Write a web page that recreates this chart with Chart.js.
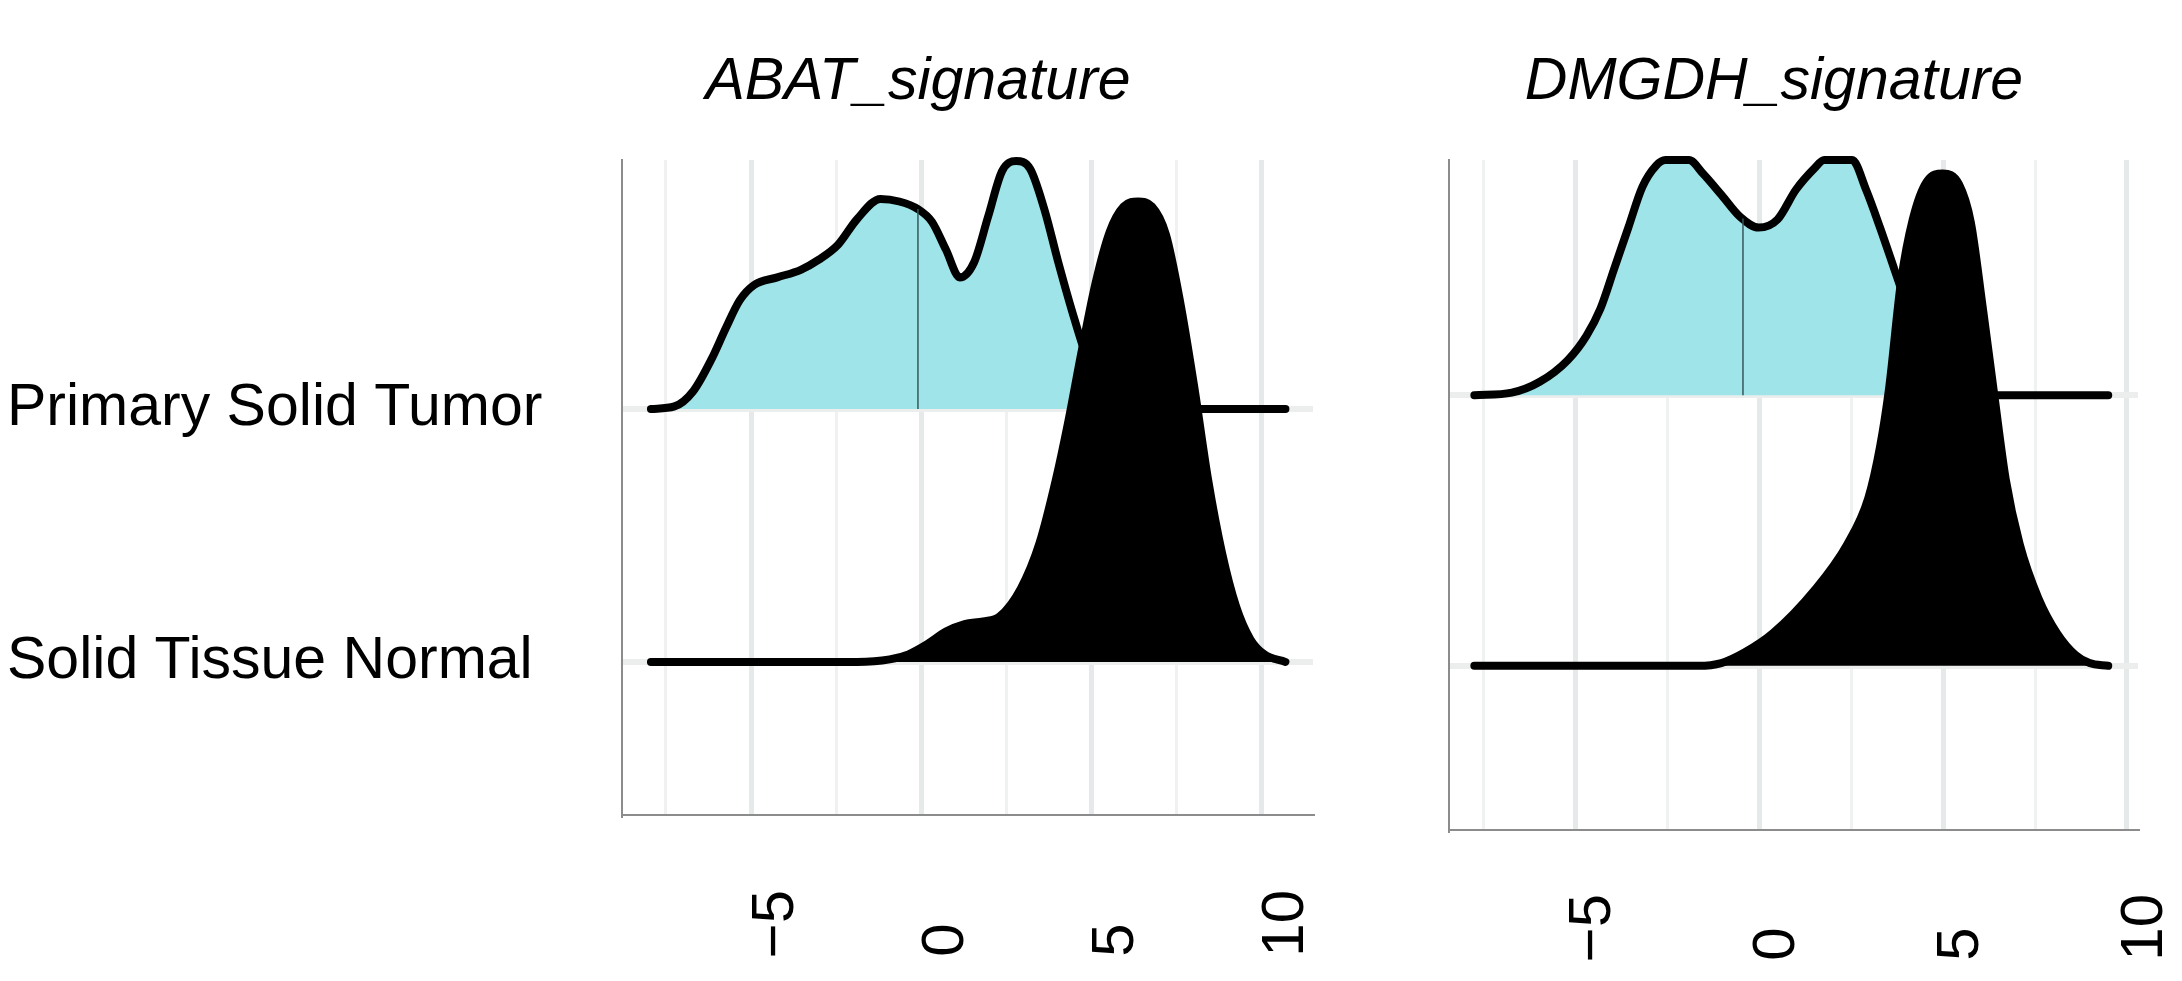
<!DOCTYPE html>
<html>
<head>
<meta charset="utf-8">
<script src="https://cdn.jsdelivr.net/npm/chart.js@4.4.1/dist/chart.umd.min.js"></script>
<style>
  body { margin: 0; background: #fff; }
  #wrap { position: relative; width: 2182px; height: 981px; }
  canvas { position: absolute; top: 0; }
  .title {
    position: absolute; top: 50px; width: 800px; text-align: center;
    font: italic 59px/58px 'Liberation Sans', Arial, sans-serif; color: #000;
  }
</style>
</head>
<body>
<div id="wrap">
  <div class="title" id="title-abat" style="left:518px"></div>
  <div class="title" id="title-dmgdh" style="left:1374px"></div>
  <canvas id="abat" width="1340" height="981" style="left:0"></canvas>
  <canvas id="dmgdh" width="782" height="981" style="left:1400px"></canvas>
</div>
<script>
const groups = ['Solid Tissue Normal', 'Primary Solid Tumor'];
const groupLevels = [1, 2];
const panelTitles = ['ABAT_signature', 'DMGDH_signature'];
const gridTicks = [-7.5, -5, -2.5, 0, 2.5, 5, 7.5, 10];
const labelledTicks = [-5, 0, 5, 10];
const tickLabels = ['\u22125', '0', '5', '10'];

// ABAT_signature ridges (x = score, h = scaled density)
const abatTumorX = [-7.94, -7.25, -6.70, -6.15, -5.74, -5.33, -4.91, -4.23, -3.54, -3.01, -2.44, -1.89, -1.20, -0.65, -0.10, 0.31, 0.72, 1.13, 1.55, 1.96, 2.37, 2.78, 3.19, 3.61, 4.02, 4.44, 4.84, 5.26, 5.67, 6.10, 10.69];
const abatTumorH = [0, 0.01, 0.07, 0.20, 0.32, 0.43, 0.49, 0.52, 0.55, 0.59, 0.65, 0.75, 0.83, 0.82, 0.79, 0.74, 0.63, 0.52, 0.58, 0.76, 0.94, 0.98, 0.95, 0.79, 0.58, 0.38, 0.21, 0.09, 0.02, 0, 0];
const abatNormalX = [-7.94, -1.89, -0.93, -0.38, 0.17, 0.72, 1.27, 1.82, 2.30, 2.92, 3.47, 3.95, 4.30, 4.71, 5.12, 5.53, 5.94, 6.36, 6.77, 7.18, 7.59, 8.01, 8.42, 8.83, 9.24, 9.66, 10.07, 10.69];
const abatNormalH = [0, 0, 0.01, 0.03, 0.07, 0.12, 0.15, 0.16, 0.18, 0.29, 0.47, 0.72, 0.94, 1.23, 1.50, 1.70, 1.80, 1.82, 1.80, 1.69, 1.43, 1.09, 0.72, 0.43, 0.22, 0.09, 0.03, 0];
const abatTumorMedian = -0.1;

// DMGDH_signature ridges
const dmgdhTumorX = [-7.76, -6.74, -5.98, -5.22, -4.71, -4.33, -3.95, -3.57, -3.19, -2.81, -2.56, -1.92, -1.54, -1.03, -0.53, -0.02, 0.49, 0.99, 1.50, 1.76, 2.52, 2.90, 3.28, 3.66, 4.04, 4.42, 4.80, 5.18, 5.56, 9.49];
const dmgdhTumorH = [0, 0.01, 0.05, 0.13, 0.22, 0.32, 0.47, 0.62, 0.77, 0.85, 0.87, 0.87, 0.82, 0.74, 0.66, 0.62, 0.65, 0.76, 0.84, 0.87, 0.87, 0.76, 0.62, 0.47, 0.32, 0.17, 0.07, 0.02, 0, 0];
const dmgdhNormalX = [-7.76, -1.67, -1.04, -0.40, 0.36, 1.50, 2.39, 2.96, 3.28, 3.53, 3.85, 4.17, 4.55, 4.99, 5.43, 5.75, 6.07, 6.39, 6.70, 7.08, 7.59, 8.10, 8.60, 8.98, 9.49];
const dmgdhNormalH = [0, 0, 0.01, 0.05, 0.12, 0.28, 0.45, 0.62, 0.81, 1.03, 1.42, 1.65, 1.79, 1.82, 1.78, 1.64, 1.33, 1.00, 0.69, 0.45, 0.25, 0.12, 0.04, 0.01, 0];
const dmgdhTumorMedian = -0.45;

Chart.defaults.font.family = "'Liberation Sans', Arial, sans-serif";

document.getElementById('title-abat').textContent = panelTitles[0];
document.getElementById('title-dmgdh').textContent = panelTitles[1];

// rotated labels are anchored at their end, so pad the one-digit ones with
// two spaces (one digit wide) to line all labels up at their start
function tickLabel(v) {
  const i = labelledTicks.indexOf(v);
  if (i < 0) return '';
  const s = tickLabels[i];
  return s.length < 2 ? s + '  ' : s;
}

// height of a ridge at x, used to stop the median segment at the outline
function heightAt(xs, hs, x) {
  for (let i = 1; i < xs.length; i++) {
    if (x <= xs[i]) {
      const t = (x - xs[i - 1]) / (xs[i] - xs[i - 1]);
      return hs[i - 1] + t * (hs[i] - hs[i - 1]);
    }
  }
  return 0;
}

function ridge(xs, hs, base) {
  return xs.map((x, i) => ({ x: x, y: base + hs[i] }));
}

function isMajor(c) {
  return c.tick && labelledTicks.includes(c.tick.value);
}

function drawPanel(id, p) {
  const tumorBase = groupLevels[1], normalBase = groupLevels[0];
  new Chart(document.getElementById(id), {
    type: 'line',
    data: {
      datasets: [
        {
          label: groups[0],
          data: ridge(p.normalX, p.normalH, normalBase),
          fill: { value: normalBase },
          backgroundColor: '#000',
          borderColor: '#000',
          order: 0
        },
        {
          label: 'median',
          data: [
            { x: p.median, y: tumorBase },
            { x: p.median, y: tumorBase + heightAt(p.tumorX, p.tumorH, p.median) }
          ],
          borderColor: '#36575a',
          borderWidth: 1.5,
          borderCapStyle: 'butt',
          fill: false,
          order: 1
        },
        {
          label: groups[1],
          data: ridge(p.tumorX, p.tumorH, tumorBase),
          fill: { value: tumorBase },
          backgroundColor: '#9ee4e8',
          borderColor: '#000',
          order: 2
        }
      ]
    },
    options: {
      responsive: false,
      animation: false,
      layout: { padding: p.padding },
      elements: {
        point: { radius: 0 },
        line: {
          borderWidth: 8,
          cubicInterpolationMode: 'monotone',
          borderCapStyle: 'round',
          borderJoinStyle: 'round'
        }
      },
      datasets: { line: { clip: 5 } },
      plugins: { legend: { display: false }, tooltip: { enabled: false } },
      scales: {
        x: {
          type: 'linear',
          min: p.xMin,
          max: p.xMax,
          afterBuildTicks: s => { s.ticks = gridTicks.map(v => ({ value: v })); },
          ticks: {
            autoSkip: false,
            minRotation: 90,
            maxRotation: 90,
            padding: p.tickPad,
            labelOffset: p.labelOffset,
            color: '#000',
            font: { size: 60 },
            callback: v => tickLabel(v)
          },
          grid: {
            drawTicks: false,
            color: c => isMajor(c) ? '#e6e9e9' : '#f0f2f2',
            lineWidth: c => isMajor(c) ? 5 : 3
          },
          border: { color: '#8c8c8c', width: 2 },
          // the rotated labels sit inside the margins, so keep the plot width fixed
          afterFit: s => { s.height = p.xAxisHeight; s.paddingLeft = 0; s.paddingRight = 0; }
        },
        y: {
          type: 'linear',
          min: p.yMin,
          max: p.yMax,
          afterBuildTicks: s => { s.ticks = groupLevels.map(v => ({ value: v })); },
          ticks: {
            display: p.showGroups,
            autoSkip: false,
            crossAlign: 'far',
            padding: 0,
            color: '#000',
            font: { size: 59 },
            callback: v => groups[groupLevels.indexOf(v)]
          },
          grid: { color: '#eceeee', lineWidth: 6, drawTicks: false },
          border: { color: '#8c8c8c', width: 2 },
          afterFit: s => { s.width = p.yAxisWidth; s.paddingTop = 0; s.paddingBottom = 0; }
        }
      }
    }
  });
}

drawPanel('abat', {
  tumorX: abatTumorX, tumorH: abatTumorH,
  normalX: abatNormalX, normalH: abatNormalH,
  median: abatTumorMedian,
  xMin: -8.79, xMax: 11.5, yMin: 0.395, yMax: 2.984,
  padding: { left: 7, right: 27, top: 160, bottom: 0 },
  yAxisWidth: 615, xAxisHeight: 166,
  tickPad: 75, labelOffset: 25, showGroups: true
});

drawPanel('dmgdh', {
  tumorX: dmgdhTumorX, tumorH: dmgdhTumorH,
  normalX: dmgdhNormalX, normalH: dmgdhNormalH,
  median: dmgdhTumorMedian,
  xMin: -8.45, xMax: 10.3, yMin: 0.393, yMax: 2.87,
  padding: { left: 49, right: 44, top: 160, bottom: 0 },
  yAxisWidth: 0, xAxisHeight: 151,
  tickPad: 64, labelOffset: 18, showGroups: false
});
</script>
</body>
</html>
